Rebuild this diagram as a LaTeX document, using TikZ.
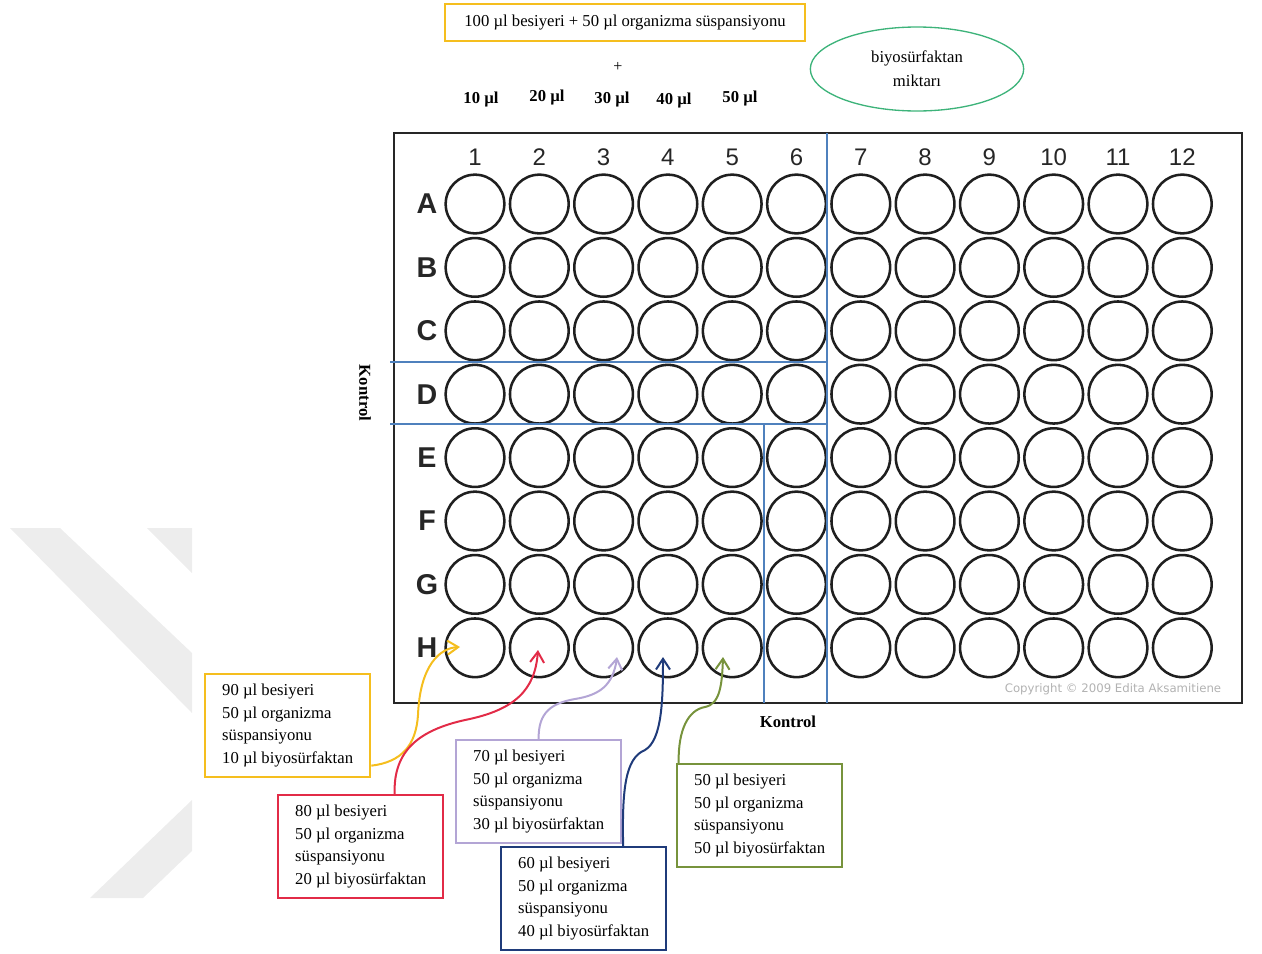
\documentclass[tikz,border=0pt]{standalone}
\usepackage{fontspec}
\setmainfont{Liberation Serif}
\newfontfamily\arialf{Liberation Sans}
\newfontfamily\dejavuf{DejaVu Sans}
\usetikzlibrary{arrows.meta,shapes.geometric}
\definecolor{ylw}{HTML}{F5BE1E}
\definecolor{rd}{HTML}{E22B47}
\definecolor{lav}{HTML}{B3A5D5}
\definecolor{nvy}{HTML}{1F3B7A}
\definecolor{olv}{HTML}{77933C}
\definecolor{bln}{HTML}{4F81BD}
\definecolor{elg}{HTML}{3DB37A}
\definecolor{wmg}{HTML}{EDEDED}
\begin{document}
\begin{tikzpicture}[x=0.75pt,y=-0.75pt,
  infobox/.style={draw=#1, line width=1.5pt, fill=white, minimum width=124pt, minimum height=77pt,
    align=left, font=\fontsize{12.5}{16.9}\selectfont, anchor=north west},
  well/.style={circle, draw=black!88, line width=1.9pt, minimum size=44pt, inner sep=0pt},
  collbl/.style={font=\arialf\fontsize{18}{20}\selectfont, text=black!85},
  rowlbl/.style={font=\arialf\bfseries\fontsize{21.5}{22}\selectfont, text=black!85},
  arr/.style={line width=1.5pt, draw=#1, -{Straight Barb[length=8pt,width=10.5pt]}},
  bline/.style={draw=bln, line width=1.6pt},
  vol/.style={font=\bfseries\fontsize{12.5}{14}\selectfont},
  kont/.style={font=\bfseries\fontsize{12.5}{14}\selectfont}
]
\useasboundingbox (0,0) rectangle (1262,953);
% watermark
\fill[wmg] (10,528) -- (60,528) -- (192,653) -- (192,713) -- cycle;
\fill[wmg] (147,528) -- (192,528) -- (192,573) -- cycle;
\fill[wmg] (192,800) -- (90,898) -- (143,898) -- (192,851) -- cycle;

% top texts
\node[draw=ylw, line width=1.5pt, minimum width=270pt, minimum height=27.75pt,
  font=\fontsize{12.5}{14}\selectfont] (topbox) at (625,22.5) {100 µl besiyeri + 50 µl organizma süspansiyonu};
\node[font=\fontsize{12}{14}\selectfont] (plus) at (618,67) {+};
\node[vol] (v10) at (481,99) {10 µl};
\node[vol] (v20) at (547,97) {20 µl};
\node[vol] (v30) at (612,99) {30 µl};
\node[vol] (v40) at (674,100) {40 µl};
\node[vol] (v50) at (740,98) {50 µl};
\node[ellipse, draw=elg, line width=1pt, minimum width=160pt, minimum height=63pt, align=center,
  font=\fontsize{12.5}{18}\selectfont] (amt) at (917,69) {biyosürfaktan\\miktarı};

% plate
\draw[draw=black!85, line width=2.2pt] (394,133) rectangle (1242,703);
\foreach \c in {1,...,12} {
  \node[collbl] (c-\c) at ({475+(\c-1)*64.3},157) {\c};
}
\foreach \r [count=\j from 0] in {A,B,C,D,E,F,G,H} {
  \node[rowlbl] (r-\r) at (427,{204+\j*63.4}) {\r};
  \foreach \c in {1,...,12} {
    \node[well] (w-\r\c) at ({475+(\c-1)*64.3},{204+\j*63.4}) {};
  }
}
\draw[bline] (827,133) -- (827,703);
\draw[bline] (390,362) -- (827,362);
\draw[bline] (390,424) -- (827,424);
\draw[bline] (764,424) -- (764,703);
\node[font=\dejavuf\fontsize{8.8}{10}\selectfont, text=black!30] (copy) at (1113,689) {Copyright © 2009 Edita Aksamitiene};

\node[kont, rotate=-90] (kl) at (365,393) {Kontrol};
\node[kont] (kb) at (788,722) {Kontrol};

% info boxes
\node[infobox=ylw] (b90) at (204,673) {90 µl besiyeri\\50 µl organizma\\süspansiyonu\\10 µl biyosürfaktan};
\node[infobox=rd]  (b80) at (277,794) {80 µl besiyeri\\50 µl organizma\\süspansiyonu\\20 µl biyosürfaktan};
\node[infobox=lav] (b70) at (455,739) {70 µl besiyeri\\50 µl organizma\\süspansiyonu\\30 µl biyosürfaktan};
\node[infobox=nvy] (b60) at (500,846) {60 µl besiyeri\\50 µl organizma\\süspansiyonu\\40 µl biyosürfaktan};
\node[infobox=olv] (b50) at (676,763) {50 µl besiyeri\\50 µl organizma\\süspansiyonu\\50 µl biyosürfaktan};

% arrow tips
\coordinate (t1) at (460,647);
\coordinate (t2) at (538,650);
\coordinate (t3) at (617,657);
\coordinate (t4) at (663,657);
\coordinate (t5) at (723,657);

\draw[arr=ylw] ([yshift=9pt]b90.south east) .. controls (402,762) and (416,745) .. (418,715)
  .. controls (420,665) and (440,648) .. (t1);
\draw[arr=rd] ([xshift=25.5pt]b80.north) .. controls (393,750) and (420,730) .. (465,720)
  .. controls (515,710) and (535,690) .. (t2);
\draw[arr=lav] (b70.north) .. controls (538,712) and (552,703) .. (575,699)
  .. controls (600,695) and (613,685) .. (t3);
\draw[arr=nvy] ([xshift=29.6pt]b60.north) .. controls (622,790) and (625,758) .. (645,750)
  .. controls (662,740) and (663,700) .. (t4);
\draw[arr=olv] ([xshift=2pt]b50.north west) .. controls (678,730) and (688,710) .. (705,707)
  .. controls (720,704) and (722,685) .. (t5);
\end{tikzpicture}
\end{document}
